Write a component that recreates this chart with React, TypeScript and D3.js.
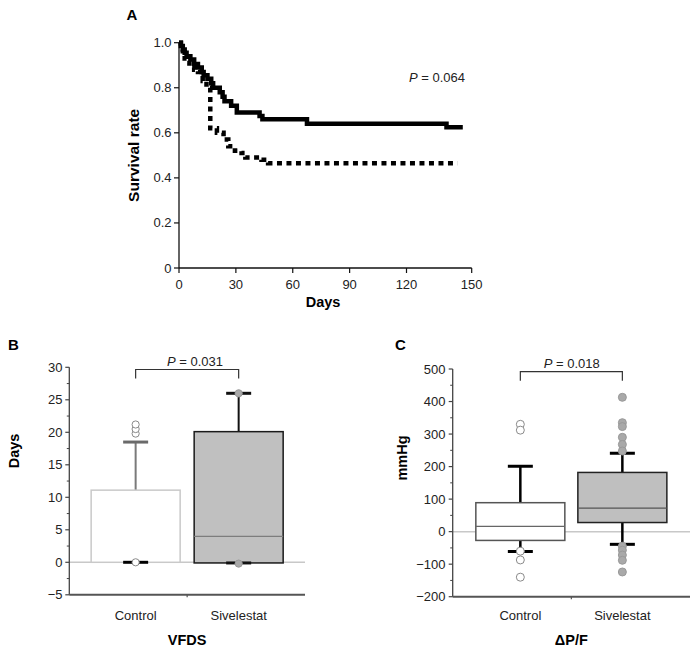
import React from 'react';
import * as d3 from 'd3';

// ---------- Panel A data (Kaplan–Meier steps) ----------
const solidDays = [0, 1, 2, 3, 4, 6, 8, 10, 12, 13, 15, 17, 18, 21.5, 23, 24, 27.5, 30.5, 42.5, 44, 67.5, 138.4, 145.9];
const solidSurv = [1.0, 0.985, 0.97, 0.955, 0.94, 0.925, 0.905, 0.89, 0.87, 0.855, 0.84, 0.82, 0.8, 0.78, 0.76, 0.74, 0.72, 0.69, 0.675, 0.66, 0.64, 0.625, 0.625];
const dottedDays = [0, 1, 2, 3, 4, 5.5, 8, 10, 12.5, 14.5, 16.5, 20, 23.5, 26, 29.5, 33, 35, 43.5, 47, 143.5];
const dottedSurv = [1.0, 0.97, 0.95, 0.93, 0.91, 0.89, 0.88, 0.87, 0.83, 0.8, 0.62, 0.6, 0.57, 0.54, 0.52, 0.51, 0.49, 0.48, 0.465, 0.465];
const survXTicks = [0, 30, 60, 90, 120, 150];
const survYTicks = [0, 0.2, 0.4, 0.6, 0.8, 1.0];
const pValueA = '0.064';

// ---------- Panel B data (VFDS) ----------
const groups = ['Control', 'Sivelestat'];
const vfdsQ1 = [0, -0.1];
const vfdsMedian = [0, 4];
const vfdsQ3 = [11.1, 20.1];
const vfdsLow = [0, -0.1];
const vfdsHigh = [18.5, 26];
const vfdsPoints = [[19.8, 20.5, 21.2, 0], [26, -0.2]];
const vfdsYTicks = [-5, 0, 5, 10, 15, 20, 25, 30];
const pValueB = '0.031';

// ---------- Panel C data (ΔP/F) ----------
const pfQ1 = [-27, 28];
const pfMedian = [16, 72];
const pfQ3 = [89, 182];
const pfLow = [-61, -39];
const pfHigh = [201, 241];
const pfPoints = [
  [330, 312, -60, -87, -140],
  [413, 335, 323, 290, 268, 248, -45, -57, -72, -88, -124],
];
const pfYTicks = [-200, -100, 0, 100, 200, 300, 400, 500];
const pValueC = '0.018';

const FONT = "'Liberation Sans', Arial, Helvetica, sans-serif";

function PanelA() {
  const x = d3.scaleLinear().domain([0, 120, 150]).range([179, 406.5, 471.7]);
  const y = d3.scaleLinear().domain([0, 1]).range([268, 42.7]);
  const mk = (days: number[], surv: number[]) =>
    d3
      .line<[number, number]>()
      .x((d) => x(d[0]))
      .y((d) => y(d[1]))
      .curve(d3.curveStepAfter)(days.map((d, i) => [d, surv[i]] as [number, number])) || '';
  const fmt = (v: number) => (v === 0 ? '0' : d3.format('.1f')(v));
  return (
    <g>
      <text x={126.5} y={20} fontSize={15} fontWeight="bold" fontFamily={FONT}>A</text>
      <line x1={179} x2={179} y1={y(1)} y2={y(0)} stroke="#111" strokeWidth={1.3} />
      <line x1={179} x2={x(150)} y1={y(0)} y2={y(0)} stroke="#111" strokeWidth={1.3} />
      {survYTicks.map((t) => (
        <g key={'ya' + t}>
          <line x1={174} x2={179} y1={y(t)} y2={y(t)} stroke="#111" strokeWidth={1.2} />
          <text x={171.5} y={y(t)} dy="0.35em" textAnchor="end" fontSize={13} fontFamily={FONT} fill="#222">
            {fmt(t)}
          </text>
        </g>
      ))}
      {survXTicks.map((t) => (
        <g key={'xa' + t}>
          <line x1={x(t)} x2={x(t)} y1={y(0)} y2={y(0) + 5} stroke="#111" strokeWidth={1.2} />
          <text x={x(t)} y={289} textAnchor="middle" fontSize={13} fontFamily={FONT} fill="#222">
            {t}
          </text>
        </g>
      ))}
      <text
        transform={`translate(138.5,${(y(0) + y(1)) / 2}) rotate(-90)`}
        textAnchor="middle"
        fontSize={15.5}
        fontWeight="bold"
        fontFamily={FONT}
      >
        Survival rate
      </text>
      <text x={323} y={307} textAnchor="middle" fontSize={14.5} fontWeight="bold" fontFamily={FONT}>
        Days
      </text>
      <path d={mk(dottedDays, dottedSurv)} fill="none" stroke="#000" strokeWidth={4.5} strokeDasharray="5,4.5" />
      <path d={mk(solidDays, solidSurv)} fill="none" stroke="#000" strokeWidth={4.5} strokeLinejoin="miter" />
      <text x={465} y={81.7} textAnchor="end" fontSize={13} fontFamily={FONT} fill="#222">
        <tspan fontStyle="italic">P</tspan> = {pValueA}
      </text>
    </g>
  );
}

type BoxProps = {
  letter: string;
  letterX: number;
  yDomain: [number, number];
  yRange: [number, number];
  axisX: number;
  axisRight: number;
  pointPadding: number;
  yTicks: number[];
  minorStep: number;
  q1: number[];
  med: number[];
  q3: number[];
  low: number[];
  high: number[];
  points: number[][];
  pValue: string;
  pX: number;
  bracketY: number;
  yTitle: string;
  yTitleX: number;
  yTitleY: number;
  xTitle: string;
  variant: 'B' | 'C';
  tickLabelX: number;
};

function BoxPanel(p: BoxProps) {
  const y = d3.scaleLinear().domain(p.yDomain).range(p.yRange);
  const x = d3.scalePoint<string>().domain(groups).range([p.axisX, p.axisRight]).padding(p.pointPadding);
  const boxW = 89;
  const capW = 25;
  const minorTicks = d3.range(p.yDomain[0] + p.minorStep, p.yDomain[1], p.minorStep * 2);
  const yBottom = y(p.yDomain[0]);
  const yTop = y(p.yDomain[1]);
  const midX = (p.axisX + p.axisRight) / 2;
  const c0 = x(groups[0]) as number;
  const c1 = x(groups[1]) as number;
  const isB = p.variant === 'B';
  const boxStyles = isB
    ? [
        { fill: '#fff', stroke: '#c9c9c9', med: 'none', whisker: '#7a7a7a', capHi: '#6a6a6a', capLo: '#000', ptFill: '#fff', ptStroke: '#8a8a8a' },
        { fill: '#c0c0c0', stroke: '#1a1a1a', med: '#7d7d7d', whisker: '#111', capHi: '#111', capLo: '#111', ptFill: '#a9a9a9', ptStroke: '#999' },
      ]
    : [
        { fill: '#fff', stroke: '#555', med: '#666', whisker: '#000', capHi: '#000', capLo: '#000', ptFill: '#fff', ptStroke: '#8a8a8a' },
        { fill: '#bfbfbf', stroke: '#222', med: '#555', whisker: '#000', capHi: '#000', capLo: '#000', ptFill: '#a9a9a9', ptStroke: '#999' },
      ];
  return (
    <g fontFamily={FONT}>
      <text x={p.letterX} y={350} fontSize={15} fontWeight="bold">{p.letter}</text>
      <line x1={p.axisX} x2={p.axisRight} y1={y(0)} y2={y(0)} stroke="#c8c8c8" strokeWidth={1.5} />
      {groups.map((g, i) => {
        const cx = x(g) as number;
        const s = boxStyles[i];
        return (
          <g key={g}>
            <line x1={cx} x2={cx} y1={y(p.q3[i])} y2={y(p.high[i])} stroke={s.whisker} strokeWidth={isB ? 2 : 2.5} />
            <line x1={cx} x2={cx} y1={y(p.q1[i])} y2={y(p.low[i])} stroke={s.whisker} strokeWidth={isB ? 2 : 2.5} />
            <rect
              x={cx - boxW / 2}
              width={boxW}
              y={y(p.q3[i])}
              height={y(p.q1[i]) - y(p.q3[i])}
              fill={s.fill}
              stroke={s.stroke}
              strokeWidth={1.5}
            />
            {s.med !== 'none' && (
              <line x1={cx - boxW / 2} x2={cx + boxW / 2} y1={y(p.med[i])} y2={y(p.med[i])} stroke={s.med} strokeWidth={1.2} />
            )}
            <line x1={cx - capW / 2} x2={cx + capW / 2} y1={y(p.high[i])} y2={y(p.high[i])} stroke={s.capHi} strokeWidth={3} />
            <line x1={cx - capW / 2} x2={cx + capW / 2} y1={y(p.low[i])} y2={y(p.low[i])} stroke={s.capLo} strokeWidth={3} />
            {p.points[i].map((v, j) => (
              <circle key={j} cx={cx} cy={y(v)} r={isB ? 3.6 : 4} fill={s.ptFill} stroke={s.ptStroke} strokeWidth={1} />
            ))}
          </g>
        );
      })}
      <line x1={p.axisX} x2={p.axisX} y1={yTop} y2={yBottom} stroke="#444" strokeWidth={1.3} />
      <line x1={p.axisX} x2={p.axisRight} y1={yBottom} y2={yBottom} stroke="#555" strokeWidth={2} />
      <line x1={midX} x2={midX} y1={yBottom} y2={yBottom + 2.5} stroke="#555" strokeWidth={1.2} />
      {p.yTicks.map((t) => (
        <g key={'t' + t}>
          <line x1={p.axisX - 4} x2={p.axisX} y1={y(t)} y2={y(t)} stroke="#444" strokeWidth={1.2} />
          <text x={p.tickLabelX} y={y(t)} dy="0.35em" textAnchor="end" fontSize={13} fill="#222">
            {d3.format('')(t).replace('-', '\u2212')}
          </text>
        </g>
      ))}
      {minorTicks.map((t) => (
        <line key={'m' + t} x1={p.axisX - 2.5} x2={p.axisX} y1={y(t)} y2={y(t)} stroke="#444" strokeWidth={1} />
      ))}
      {groups.map((g) => (
        <text key={'l' + g} x={x(g) as number} y={620} textAnchor="middle" fontSize={13} fill="#222">
          {g}
        </text>
      ))}
      <path
        d={`M${c0},${p.bracketY + 9}V${p.bracketY}H${c1}V${p.bracketY + 9}`}
        fill="none"
        stroke="#333"
        strokeWidth={1.2}
      />
      <text x={p.pX} y={p.bracketY - 3.5} textAnchor="middle" fontSize={13} fill="#222">
        <tspan fontStyle="italic">P</tspan> = {p.pValue}
      </text>
      <text
        transform={`translate(${p.yTitleX},${p.yTitleY}) rotate(-90)`}
        textAnchor="middle"
        fontSize={14.5}
        fontWeight="bold"
      >
        {p.yTitle}
      </text>
      <text x={midX} y={645} textAnchor="middle" fontSize={14.5} fontWeight="bold">
        {p.xTitle}
      </text>
    </g>
  );
}

export default function App() {
  return (
    <svg width={699} height={654} style={{ position: 'absolute', left: 0, top: 0, background: '#fff' }}>
      <rect width={699} height={654} fill="#fff" />
      <PanelA />
      <BoxPanel
        letter="B"
        letterX={8}
        yDomain={[-5, 30]}
        yRange={[594.8, 367.3]}
        axisX={69.3}
        axisRight={305}
        pointPadding={0.644}
        yTicks={vfdsYTicks}
        minorStep={2.5}
        q1={vfdsQ1}
        med={vfdsMedian}
        q3={vfdsQ3}
        low={vfdsLow}
        high={vfdsHigh}
        points={vfdsPoints}
        pValue={pValueB}
        pX={195}
        bracketY={369.5}
        yTitle="Days"
        yTitleX={19}
        yTitleY={451}
        xTitle="VFDS"
        variant="B"
        tickLabelX={62.5}
      />
      <BoxPanel
        letter="C"
        letterX={395}
        yDomain={[-200, 500]}
        yRange={[596.7, 369]}
        axisX={452.7}
        axisRight={690}
        pointPadding={0.663}
        yTicks={pfYTicks}
        minorStep={50}
        q1={pfQ1}
        med={pfMedian}
        q3={pfQ3}
        low={pfLow}
        high={pfHigh}
        points={pfPoints}
        pValue={pValueC}
        pX={571.8}
        bracketY={371.7}
        yTitle="mmHg"
        yTitleX={407}
        yTitleY={458}
        xTitle={'\u0394P/F'}
        variant="C"
        tickLabelX={445.5}
      />
    </svg>
  );
}
